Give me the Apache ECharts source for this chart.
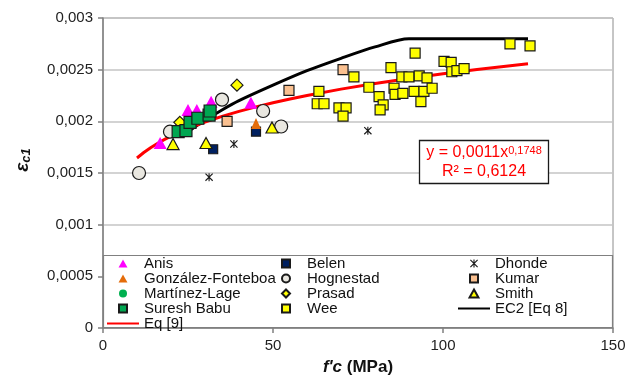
<!DOCTYPE html>
<html>
<head>
<meta charset="utf-8">
<style>
  html, body { margin: 0; padding: 0; background: #ffffff; }
  #chart { width: 627px; height: 380px; }
</style>
<script src="https://cdn.jsdelivr.net/npm/echarts@6/dist/echarts.min.js"></script>
</head>
<body>
<div id="chart"></div>
<script>
// Peak strain εc1 versus compressive strength f'c, with EC2 curve and fitted power law

const xTicks = [0, 50, 100, 150];
const yTicks = [0, 0.0005, 0.001, 0.0015, 0.002, 0.0025, 0.003];

// [f'c (MPa), εc1]
const anis = [[16.8, 0.00179], [22.4, 0.00198], [25.0, 0.00211], [27.6, 0.00211], [31.8, 0.00219], [43.5, 0.00218]];
const belen = [[32.4, 0.00173], [45.0, 0.0019]];
const dhonde = [[31.2, 0.00146], [38.5, 0.00178], [77.9, 0.00191]];
const gonzalezFonteboa = [[45.0, 0.00198]];
const hognestad = [[10.6, 0.0015], [19.7, 0.0019], [35.0, 0.00221], [47.1, 0.0021], [52.4, 0.00195]];
const kumar = [[36.5, 0.002], [54.7, 0.0023], [70.6, 0.0025]];
const martinezLage = [[26.0, 0.002], [29.0, 0.00204]];
const prasad = [[22.6, 0.00199], [39.4, 0.00235]];
const smith = [[20.6, 0.00178], [30.3, 0.00179], [49.7, 0.00194]];
const sureshBabu = [[22.1, 0.0019], [24.4, 0.00191], [25.6, 0.00199], [27.9, 0.00203], [31.2, 0.00206], [31.5, 0.0021]];
const wee = [
  [63.5, 0.00229], [63.0, 0.00217], [65.0, 0.00217], [69.4, 0.00213], [71.5, 0.00213], [70.6, 0.00205],
  [73.8, 0.00243], [78.2, 0.00233], [81.2, 0.00224], [82.4, 0.00216], [81.5, 0.00211], [84.7, 0.00252],
  [85.6, 0.00232], [85.9, 0.00226], [87.9, 0.00243], [88.2, 0.00227], [90.0, 0.00243], [91.8, 0.00266],
  [93.0, 0.00244], [95.3, 0.00242], [91.5, 0.00229], [94.4, 0.00229], [96.8, 0.00232], [93.5, 0.00219],
  [100.3, 0.00258], [102.4, 0.00257], [102.6, 0.00248], [104.1, 0.00249], [106.2, 0.00251],
  [119.7, 0.00275], [125.6, 0.00273]
];

// EC2 [Eq 8] curve
const ec2 = [[25, 0.0019], [30, 0.00201], [35, 0.00211], [40, 0.0022], [50, 0.00235], [60, 0.00249],
             [70, 0.00261], [80, 0.00272], [90, 0.0028], [125, 0.0028]];

// Eq [9]: y = a·x^b
const eq9Coef = 0.0011;
const eq9Exp = 0.1748;
const eq9R2 = 0.6124;
const eq9X = [10, 12, 14, 16, 18, 20, 23, 26, 30, 35, 40, 45, 50, 55, 60, 70, 80, 90, 100, 110, 125];
const eq9 = eq9X.map(x => [x, eq9Coef * Math.pow(x, eq9Exp)]);

const FONT = 'Liberation Sans, Arial, sans-serif';
const comma = v => String(v).replace('.', ',');

// marker shapes as paths so legend icons keep their aspect ratio
const TRIANGLE = 'path://M5 0L10 9L0 9Z';
const SQUARE = 'path://M0 0L10 0L10 10L0 10Z';
const DIAMOND = 'path://M5 0L10 5L5 10L0 5Z';
const ASTERISK = 'path://M4.3 0L5.7 0L5.7 10L4.3 10Z M0 1L1 0L10 9L9 10Z M9 0L10 1L1 10L0 9Z';

function scatter(name, data, symbol, size, color, border) {
  return {
    name, type: 'scatter', data, symbol, symbolSize: size, symbolKeepAspect: false, z: 3,
    itemStyle: border
      ? { color, borderColor: '#1a1a1a', borderWidth: 1.2, opacity: 1 }
      : { color, borderWidth: 0, opacity: 1 },
    emphasis: { disabled: true }
  };
}

const series = [
  scatter('Anis', anis, TRIANGLE, [13, 12], '#ff00ff', false),
  scatter('Belen', belen, SQUARE, 9, '#002060', true),
  scatter('Dhonde', dhonde, ASTERISK, 8, '#1a1a1a', false),
  scatter('González-Fonteboa', gonzalezFonteboa, TRIANGLE, [10, 11], '#e46c0a', false),
  scatter('Hognestad', hognestad, 'circle', 13, '#e9e7e0', true),
  scatter('Kumar', kumar, SQUARE, 10, '#fac090', true),
  scatter('Martínez-Lage', martinezLage, 'circle', 10, '#00b050', false),
  scatter('Prasad', prasad, DIAMOND, 12, '#ffff00', true),
  scatter('Smith', smith, TRIANGLE, [12, 11], '#ffff00', true),
  scatter('Suresh Babu', sureshBabu, SQUARE, 12, '#00a651', true),
  scatter('Wee', wee, SQUARE, 10, '#ffff00', true),
  {
    name: 'EC2 [Eq 8]', type: 'line', data: ec2, symbol: 'none', showSymbol: false, smooth: 0.3, z: 2,
    lineStyle: { color: '#000000', width: 3 }, itemStyle: { color: '#000000' }, emphasis: { disabled: true }
  },
  {
    name: 'Eq [9]', type: 'line', data: eq9, symbol: 'none', showSymbol: false, z: 2,
    lineStyle: { color: '#ff0000', width: 3 }, itemStyle: { color: '#ff0000' }, emphasis: { disabled: true }
  }
];

const lineNames = ['EC2 [Eq 8]', 'Eq [9]'];

function legendColumn(left, names) {
  return {
    data: names.map(n => lineNames.includes(n)
      ? { name: n, itemStyle: { opacity: 0, borderWidth: 0 } }
      : { name: n }),
    orient: 'vertical', left, top: 256,
    itemWidth: 32, itemHeight: 8, itemGap: 0, padding: 0,
    symbolKeepAspect: true, selectedMode: false, z: 6,
    textStyle: { fontFamily: FONT, fontSize: 15, color: '#111111', lineHeight: 14.7 }
  };
}

const chart = echarts.init(document.getElementById('chart'), null, { renderer: 'canvas' });
chart.setOption({
  animation: false,
  backgroundColor: '#ffffff',
  grid: {
    left: 103, right: 14, top: 18, bottom: 52,
    show: true, borderColor: '#8c8c8c', borderWidth: 1, backgroundColor: 'transparent',
    containLabel: false, outerBoundsMode: 'none'
  },
  xAxis: {
    type: 'value', min: xTicks[0], max: xTicks[xTicks.length - 1], interval: xTicks[1] - xTicks[0],
    name: "{i|f'c}{n| (MPa)}", nameLocation: 'middle', nameGap: 31,
    nameTextStyle: {
      rich: {
        i: { fontFamily: FONT, fontSize: 17, fontWeight: 'bold', fontStyle: 'italic', color: '#111' },
        n: { fontFamily: FONT, fontSize: 17, fontWeight: 'bold', color: '#111' }
      }
    },
    axisLine: { show: true, lineStyle: { color: '#808080', width: 1.5 } },
    axisTick: { show: true, inside: false, length: 5, lineStyle: { color: '#808080', width: 1.5 } },
    axisLabel: { margin: 10, fontFamily: FONT, fontSize: 15, color: '#222222' },
    splitLine: { show: false }
  },
  yAxis: {
    type: 'value', min: yTicks[0], max: yTicks[yTicks.length - 1], interval: yTicks[1] - yTicks[0],
    axisLine: { show: true, lineStyle: { color: '#808080', width: 1.5 } },
    axisTick: { show: true, inside: false, length: 5, lineStyle: { color: '#808080', width: 1.5 } },
    axisLabel: {
      margin: 10, fontFamily: FONT, fontSize: 15, color: '#222222',
      formatter: v => comma(parseFloat(v.toFixed(4)))
    },
    splitLine: { show: true, lineStyle: { color: '#c4c4c4', width: 1.5 } }
  },
  legend: [
    legendColumn(106, ['Anis', 'González-Fonteboa', 'Martínez-Lage', 'Suresh Babu', 'Eq [9]']),
    legendColumn(281, ['Belen', 'Hognestad', 'Prasad', 'Wee']),
    legendColumn(457, ['Dhonde', 'Kumar', 'Smith', 'EC2 [Eq 8]'])
  ],
  graphic: [
    // legend frame
    {
      type: 'rect', z: 4, silent: true,
      shape: { x: 103.5, y: 255.5, width: 509, height: 72 },
      style: { fill: '#ffffff', stroke: '#808080', lineWidth: 1.2 }
    },
    // y axis title
    {
      type: 'text', x: 23, y: 160, rotation: Math.PI / 2, z: 5, silent: true,
      style: {
        text: '{e|ε}{s|c1}', align: 'center', verticalAlign: 'middle', fill: '#111111',
        rich: {
          e: { fontFamily: FONT, fontSize: 19, fontWeight: 'bold', fontStyle: 'italic', fill: '#111111' },
          s: { fontFamily: FONT, fontSize: 13, fontWeight: 'bold', fontStyle: 'italic', fill: '#111111', verticalAlign: 'bottom' }
        }
      }
    },
    // Eq [9] annotation
    {
      type: 'rect', z: 10, silent: true,
      shape: { x: 419.5, y: 140.5, width: 129, height: 43 },
      style: { fill: '#ffffff', stroke: '#1a1a1a', lineWidth: 1.3 }
    },
    {
      type: 'text', x: 484, y: 153, z: 11, silent: true,
      style: {
        text: '{a|y = ' + comma(eq9Coef) + 'x}{s|' + comma(eq9Exp) + '}',
        align: 'center', verticalAlign: 'middle', fill: '#ff0000',
        rich: {
          a: { fontFamily: FONT, fontSize: 16, fill: '#ff0000' },
          s: { fontFamily: FONT, fontSize: 11, fill: '#ff0000', verticalAlign: 'top' }
        }
      }
    },
    {
      type: 'text', x: 484, y: 172, z: 11, silent: true,
      style: {
        text: 'R² = ' + comma(eq9R2),
        align: 'center', verticalAlign: 'middle', fill: '#ff0000',
        fontFamily: FONT, fontSize: 16
      }
    }
  ],
  series
});
</script>
</body>
</html>
